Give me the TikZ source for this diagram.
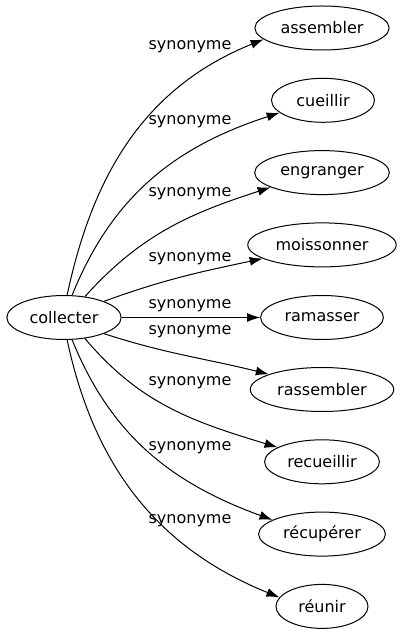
\documentclass[tikz,border=0pt]{standalone}
\usepackage{fontspec}
\setmainfont{DejaVu Sans}
\usetikzlibrary{arrows.meta,shapes.geometric}
\tikzset{>=latex}
\tikzstyle{word}=[draw,ellipse,line width=1pt,minimum height=44,minimum width=92,inner xsep=6,inner ysep=2,font=\fontsize{16}{19}\selectfont]
\tikzstyle{lab}=[inner sep=0,font=\fontsize{16}{19}\selectfont]
\tikzstyle{syn}=[-{Latex[length=13,width=9]},line width=1pt]

\begin{document}
\begin{tikzpicture}[x=1pt,y=1pt]
  \useasboundingbox (0,0) rectangle (402,635);
  \def\rowsep{72.3}
  % source word
  \node[word] (collecter) at (64,317.5) {collecter};

  % synonyms, top to bottom
  \node[word] (assembler)  at (322,607) {assembler};
  \node[word,minimum width=103] (cueillir) at (323,607-\rowsep) {cueillir};
  \node[word] (engranger)  at (322,607-2*\rowsep) {engranger};
  \node[word] (moissonner) at (322,607-3*\rowsep) {moissonner};
  \node[word] (ramasser)   at (322,317.5) {ramasser};
  \node[word] (rassembler) at (322,607-5*\rowsep) {rassembler};
  \node[word] (recueillir) at (322,607-6*\rowsep) {recueillir};
  \node[word] (recuperer)  at (322,607-7*\rowsep) {récupérer};
  \node[word] (reunir)     at (322,607-8*\rowsep) {réunir};

  \foreach \t/\a/\o/\b/\i/\ly in {assembler/82/78/191/202/588,
      cueillir/70/68/196/198/513, engranger/45/48/196/198/441,
      moissonner/22/20/193/192/376, ramasser/0/0/180/180/329,
      rassembler/-22/-18/164/166/303, recueillir/-45/-50/162/163/252,
      recuperer/-70/-68/164/160/187, reunir/-82/-78/168/158/114}{
    \draw[syn] (collecter.\a) to[out=\o,in=\i] (\t.\b);
    \node[lab] (l-\t) at (190,\ly) {synonyme};
  }
\end{tikzpicture}
\end{document}
